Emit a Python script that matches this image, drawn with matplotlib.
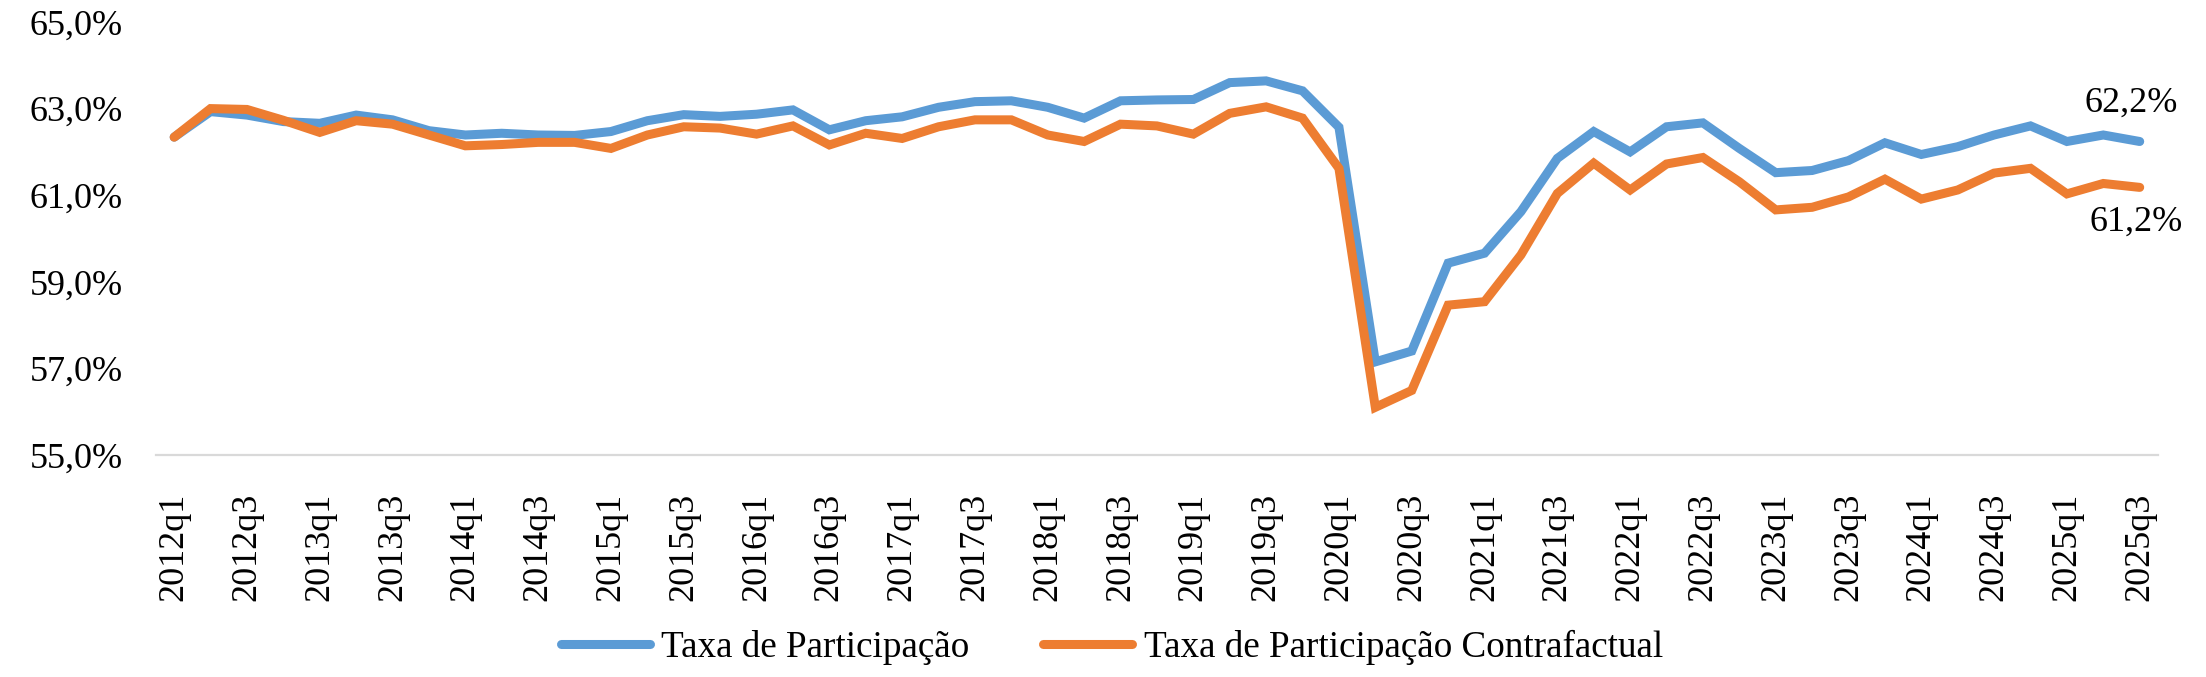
import matplotlib.pyplot as plt
from matplotlib.ticker import FuncFormatter

plt.rcParams["font.family"] = ["Liberation Serif", "DejaVu Serif"]

# quarters 2012q1 .. 2025q3
QUARTERS = [f"{y}q{q}" for y in range(2012, 2026) for q in range(1, 5)][:55]

# Taxa de Participação (%)
TAXA = [
    62.34, 62.93, 62.85, 62.70, 62.66, 62.85, 62.74, 62.49, 62.39, 62.43,
    62.39, 62.38, 62.47, 62.72, 62.86, 62.82, 62.87, 62.97, 62.51, 62.72,
    62.81, 63.03, 63.16, 63.18, 63.03, 62.78, 63.18, 63.20, 63.21, 63.60,
    63.64, 63.41, 62.57, 57.15, 57.40, 59.43, 59.66, 60.62, 61.85, 62.47,
    62.00, 62.58, 62.67, 62.08, 61.52, 61.57, 61.80, 62.21, 61.94, 62.12,
    62.39, 62.60, 62.24, 62.39, 62.24,
]

# Taxa de Participação Contrafactual (%)
CONTRA = [
    62.34, 63.00, 62.98, 62.73, 62.45, 62.72, 62.64, 62.39, 62.14, 62.17,
    62.22, 62.22, 62.08, 62.39, 62.58, 62.55, 62.41, 62.60, 62.16, 62.43,
    62.31, 62.58, 62.74, 62.74, 62.39, 62.24, 62.64, 62.60, 62.41, 62.89,
    63.04, 62.78, 61.62, 56.10, 56.49, 58.46, 58.54, 59.62, 61.04, 61.74,
    61.12, 61.72, 61.87, 61.31, 60.66, 60.72, 60.96, 61.37, 60.91, 61.12,
    61.51, 61.62, 61.03, 61.27, 61.18,
]

BLUE = "#5B9BD5"
ORANGE = "#ED7D31"
FS = 26

fig = plt.figure(figsize=(22.06, 6.77), dpi=100)
ax = fig.add_axes([0.0707, 0.328, 0.9075, 0.6395])

x = list(range(len(QUARTERS)))
l1, = ax.plot(x, TAXA, color=BLUE, lw=6.5, solid_capstyle="round",
              solid_joinstyle="miter", label="Taxa de Participação")
l2, = ax.plot(x, CONTRA, color=ORANGE, lw=6.5, solid_capstyle="round",
              solid_joinstyle="miter", label="Taxa de Participação Contrafactual")

ax.set_xlim(-0.5, len(QUARTERS) - 0.5)
ax.set_ylim(55, 65)
ax.set_yticks(range(55, 66, 2))
ax.yaxis.set_major_formatter(FuncFormatter(lambda v, p: f"{v:.1f}%".replace(".", ",")))
ax.set_xticks(x[::2])
ax.set_xticklabels(QUARTERS[::2], rotation=90)
ax.tick_params(axis="both", length=0, labelsize=FS)
ax.tick_params(axis="y", pad=24)
ax.tick_params(axis="x", pad=27)

for side in ("top", "right", "left"):
    ax.spines[side].set_visible(False)
ax.spines["bottom"].set_color("#D9D9D9")
ax.spines["bottom"].set_linewidth(1.6)

ax.annotate(f"{TAXA[-1]:.1f}%".replace(".", ","), (x[-1], TAXA[-1]),
            xytext=(-9, 22), textcoords="offset pixels", ha="center",
            va="bottom", fontsize=FS)
ax.annotate(f"{CONTRA[-1]:.1f}%".replace(".", ","), (x[-1], CONTRA[-1]),
            xytext=(-4, -18), textcoords="offset pixels", ha="center",
            va="top", fontsize=FS)

fig.legend(handles=[l1, l2], loc="center", bbox_to_anchor=(0.504, 1 - 647 / 677),
           ncol=2, frameon=False, fontsize=26.7, handlelength=2.4,
           handletextpad=0.3, columnspacing=2.0)

fig.savefig("out.png", dpi=100, facecolor="white")
